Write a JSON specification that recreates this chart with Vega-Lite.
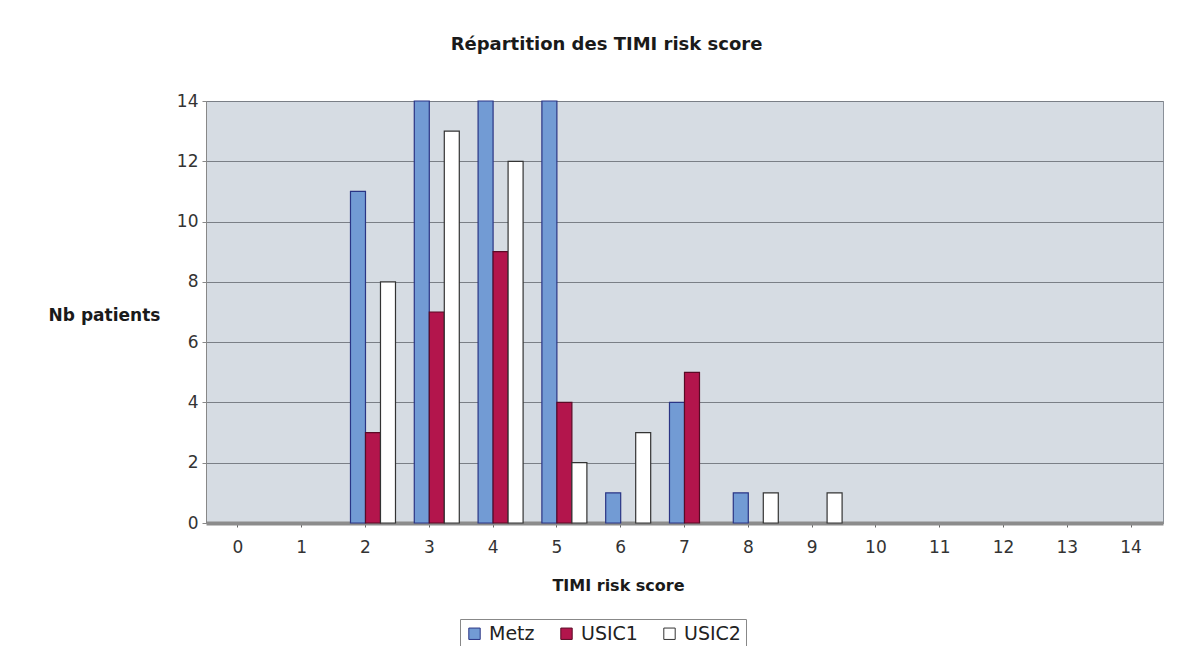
{
  "$schema": "https://vega.github.io/schema/vega-lite/v6.json",
  "width": 957,
  "height": 422,
  "autosize": {"type": "none"},
  "padding": {"left": 206, "top": 101, "right": 22, "bottom": 123},
  "background": "white",
  "title": {
    "text": "Répartition des TIMI risk score",
    "font": "DejaVu Sans",
    "fontSize": 18,
    "fontWeight": "bold",
    "color": "#1a1a1a",
    "anchor": "middle",
    "dx": -78,
    "offset": 38
  },
  "config": {
    "view": {"fill": "#d6dce3", "stroke": "#8a9099", "strokeWidth": 1},
    "axis": {"labelFont": "DejaVu Sans", "titleFont": "DejaVu Sans"}
  },
  "data": {
    "values": [
      {"score": 2, "series": "Metz", "n": 11},
      {"score": 2, "series": "USIC1", "n": 3},
      {"score": 2, "series": "USIC2", "n": 8},
      {"score": 3, "series": "Metz", "n": 14},
      {"score": 3, "series": "USIC1", "n": 7},
      {"score": 3, "series": "USIC2", "n": 13},
      {"score": 4, "series": "Metz", "n": 14},
      {"score": 4, "series": "USIC1", "n": 9},
      {"score": 4, "series": "USIC2", "n": 12},
      {"score": 5, "series": "Metz", "n": 14},
      {"score": 5, "series": "USIC1", "n": 4},
      {"score": 5, "series": "USIC2", "n": 2},
      {"score": 6, "series": "Metz", "n": 1},
      {"score": 6, "series": "USIC2", "n": 3},
      {"score": 7, "series": "Metz", "n": 4},
      {"score": 7, "series": "USIC1", "n": 5},
      {"score": 8, "series": "Metz", "n": 1},
      {"score": 8, "series": "USIC2", "n": 1},
      {"score": 9, "series": "USIC2", "n": 1}
    ]
  },
  "mark": {"type": "bar", "strokeWidth": 1.2},
  "encoding": {
    "x": {
      "field": "score",
      "type": "ordinal",
      "scale": {"domain": [0,1,2,3,4,5,6,7,8,9,10,11,12,13,14], "paddingInner": 0.05, "paddingOuter": 0.025},
      "axis": {
        "title": "TIMI risk score",
        "titleFontSize": 16,
        "titleFontWeight": "bold",
        "titleColor": "#1a1a1a",
        "titleAnchor": "start",
        "titleAlign": "center",
        "titleBaseline": "middle",
        "titleX": 412,
        "titleY": 62,
        "labelAngle": 0,
        "labelFontSize": 17,
        "labelColor": "#333",
        "labelPadding": 12,
        "tickSize": 4,
        "tickColor": "#666",
        "domainColor": "#8c8c8c",
        "domainWidth": 4,
        "grid": false
      }
    },
    "xOffset": {"field": "series", "type": "nominal", "sort": ["Metz", "USIC1", "USIC2"], "scale": {"paddingInner": 0, "paddingOuter": 0.52, "align": 0.98}},
    "y": {
      "field": "n",
      "type": "quantitative",
      "scale": {"domain": [0, 14]},
      "axis": {
        "title": "Nb patients",
        "titleAngle": 0,
        "titleFontSize": 17,
        "titleFontWeight": "bold",
        "titleColor": "#1a1a1a",
        "titleAlign": "center",
        "titleBaseline": "middle",
        "titleX": -102,
        "titleY": 214,
        "values": [0, 2, 4, 6, 8, 10, 12, 14],
        "labelFontSize": 17,
        "labelColor": "#333",
        "labelPadding": 4,
        "tickSize": 4,
        "tickColor": "#888",
        "domainColor": "#888",
        "grid": true,
        "gridColor": "#7a7f86",
        "gridWidth": 1
      }
    },
    "color": {
      "field": "series",
      "type": "nominal",
      "scale": {"domain": ["Metz", "USIC1", "USIC2"], "range": ["#729bd4", "#b3154c", "#ffffff"]},
      "legend": {
        "title": null,
        "orient": "none",
        "legendX": 254,
        "legendY": 518,
        "direction": "horizontal",
        "labelFont": "DejaVu Sans",
        "labelFontSize": 19,
        "labelColor": "#222",
        "symbolType": "square",
        "symbolSize": 130,
        "symbolStrokeColor": "#333",
        "symbolStrokeWidth": 1,
        "columnPadding": 22,
        "labelOffset": 5,
        "padding": 5,
        "strokeColor": "#888",
        "fillColor": "white"
      }
    },
    "stroke": {
      "field": "series",
      "type": "nominal",
      "scale": {"domain": ["Metz", "USIC1", "USIC2"], "range": ["#2a3585", "#5a0a25", "#333333"]},
      "legend": null
    }
  }
}
